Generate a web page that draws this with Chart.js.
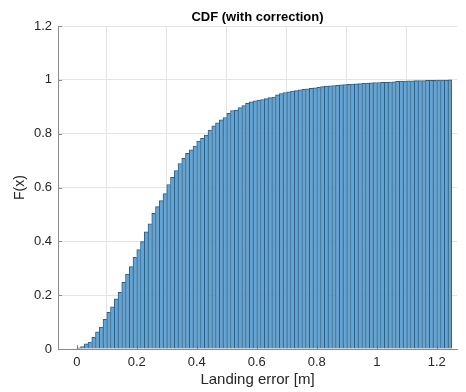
<!DOCTYPE html>
<html>
<head>
<meta charset="utf-8">
<title>CDF (with correction)</title>
<script src="https://cdn.jsdelivr.net/npm/chart.js@4.4.1/dist/chart.umd.min.js"></script>
<style>
    html, body { margin: 0; padding: 0; background: #fff; }
    canvas { display: block; }
</style>
</head>
<body>
<canvas id="cdfChart" width="466" height="392"></canvas>
<script>
// Histogram bins: 100 bins of 0.0125 m starting at 0
const binStart = 0;
const binWidth = 0.0125;

// Cumulative fraction per bin
const cdfValues = [
    0.004, 0.009, 0.019, 0.026, 0.043, 0.064, 0.081, 0.110, 0.136, 0.157,
    0.186, 0.211, 0.248, 0.278, 0.306, 0.341, 0.369, 0.399, 0.435, 0.465,
    0.504, 0.529, 0.551, 0.577, 0.611, 0.638, 0.663, 0.689, 0.708, 0.727,
    0.740, 0.754, 0.772, 0.783, 0.795, 0.813, 0.829, 0.840, 0.851, 0.860,
    0.876, 0.886, 0.888, 0.897, 0.904, 0.913, 0.918, 0.922, 0.925, 0.927,
    0.930, 0.934, 0.936, 0.944, 0.949, 0.953, 0.955, 0.958, 0.960, 0.963,
    0.965, 0.967, 0.968, 0.970, 0.972, 0.975, 0.977, 0.978, 0.979, 0.980,
    0.981, 0.982, 0.983, 0.984, 0.985, 0.986, 0.987, 0.988, 0.989, 0.990,
    0.990, 0.991, 0.991, 0.992, 0.993, 0.994, 0.995, 0.995, 0.996, 0.996,
    0.997, 0.997, 0.997, 0.998, 0.998, 0.998, 0.999, 0.999, 0.999, 1.000
];

const xTicks = [0, 0.2, 0.4, 0.6, 0.8, 1, 1.2];
const yTicks = [0, 0.2, 0.4, 0.6, 0.8, 1, 1.2];
const xRange = [-0.0625, 1.2675];
const yRange = [0, 1.2];

const FONT = '"Liberation Sans", Arial, Helvetica, sans-serif';
const TEXT = '#262626';
const AXIS = '#8a8a8a';

// MATLAB-style inward tick marks
const innerTicks = {
    id: 'innerTicks',
    beforeDatasetsDraw(chart) {
        const { ctx, chartArea, scales } = chart;
        ctx.save();
        ctx.strokeStyle = AXIS;
        ctx.lineWidth = 1;
        ctx.beginPath();
        xTicks.forEach(v => {
            const px = Math.round(scales.x.getPixelForValue(v)) + 0.5;
            ctx.moveTo(px, chartArea.bottom);
            ctx.lineTo(px, chartArea.bottom - 4);
        });
        yTicks.forEach(v => {
            const py = Math.round(scales.y.getPixelForValue(v)) + 0.5;
            ctx.moveTo(chartArea.left, py);
            ctx.lineTo(chartArea.left + 4, py);
        });
        ctx.stroke();
        ctx.restore();
    }
};

new Chart(document.getElementById('cdfChart'), {
    type: 'bar',
    data: {
        datasets: [{
            data: cdfValues.map((v, i) => ({ x: binStart + binWidth * (i + 0.5), y: v })),
            backgroundColor: 'rgb(94, 166, 217)',
            borderColor: 'rgba(10, 30, 50, 0.75)',
            borderWidth: c => ({
                left: 1,
                top: 1,
                right: c.dataIndex === cdfValues.length - 1 ? 1 : 0,
                bottom: 0
            }),
            borderSkipped: false,
            barPercentage: 1,
            categoryPercentage: 1
        }]
    },
    options: {
        responsive: false,
        animation: false,
        devicePixelRatio: 1,
        layout: { padding: { left: 0, right: 9, top: 0, bottom: 0 } },
        plugins: {
            legend: { display: false },
            tooltip: { enabled: false },
            title: {
                display: true,
                fullSize: false,
                text: 'CDF (with correction)',
                color: '#000',
                font: { family: FONT, size: 13, weight: 'bold' },
                padding: { top: 9.5, bottom: 0.9 }
            }
        },
        scales: {
            x: {
                type: 'linear',
                min: xRange[0],
                max: xRange[1],
                offset: false,
                afterBuildTicks: s => { s.ticks = xTicks.map(v => ({ value: v })); },
                afterFit: s => { s.height = 43; },
                grid: { color: '#e4e4e4', drawTicks: false },
                border: { display: true, color: AXIS },
                ticks: {
                    padding: 6,
                    color: TEXT,
                    font: { family: FONT, size: 13 },
                    maxRotation: 0,
                    callback: v => String(v)
                },
                title: {
                    display: true,
                    text: 'Landing error [m]',
                    color: TEXT,
                    font: { family: FONT, size: 15 },
                    padding: { top: 0, bottom: 3 }
                }
            },
            y: {
                min: yRange[0],
                max: yRange[1],
                afterBuildTicks: s => { s.ticks = yTicks.map(v => ({ value: v })); },
                afterFit: s => { s.width = 58; },
                grid: { color: '#e4e4e4', drawTicks: false },
                border: { display: true, color: AXIS },
                ticks: {
                    padding: 6,
                    color: TEXT,
                    font: { family: FONT, size: 13 },
                    callback: v => String(v)
                },
                title: {
                    display: true,
                    text: 'F(x)',
                    color: TEXT,
                    font: { family: FONT, size: 14 },
                    padding: { top: 12, bottom: 0 }
                }
            }
        }
    },
    plugins: [innerTicks]
});
</script>
</body>
</html>
